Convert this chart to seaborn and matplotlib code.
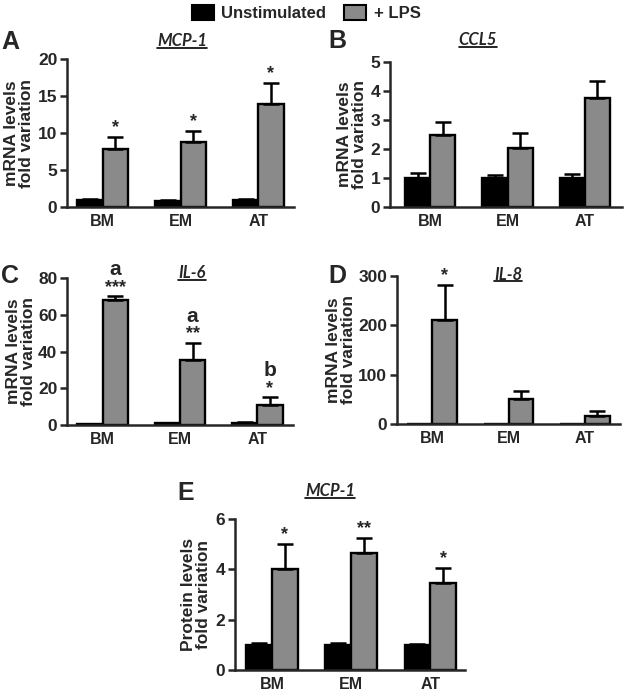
import matplotlib
matplotlib.use('Agg')
import matplotlib.pyplot as plt
import seaborn as sns
import pandas as pd
from matplotlib.patches import Patch
from matplotlib.lines import Line2D

sites = ['BM', 'EM', 'AT']
groups = ['Unstimulated', '+ LPS']

# A - MCP-1 mRNA
a_unstim = [0.9, 0.85, 0.9]
a_unstim_err = [0.2, 0.15, 0.2]
a_lps = [7.8, 8.8, 13.9]
a_lps_err = [1.7, 1.5, 2.9]
a_stars = ['*', '*', '*']

# B - CCL5 mRNA
b_unstim = [1.0, 1.0, 1.0]
b_unstim_err = [0.17, 0.1, 0.13]
b_lps = [2.5, 2.05, 3.75]
b_lps_err = [0.42, 0.5, 0.6]
b_stars = ['', '', '']

# C - IL-6 mRNA
c_unstim = [0.5, 1.0, 1.0]
c_unstim_err = [0.2, 0.3, 0.4]
c_lps = [68.0, 35.5, 11.0]
c_lps_err = [2.0, 9.0, 4.0]
c_stars = ['***', '**', '*']
c_letters = ['a', 'a', 'b']

# D - IL-8 mRNA
d_unstim = [1.0, 1.0, 1.0]
d_unstim_err = [0, 0, 0]
d_lps = [210, 50, 17]
d_lps_err = [72, 17, 9]
d_stars = ['*', '', '']

# E - MCP-1 protein
e_unstim = [1.0, 1.0, 1.0]
e_unstim_err = [0.07, 0.08, 0.05]
e_lps = [4.0, 4.65, 3.45]
e_lps_err = [1.0, 0.6, 0.6]
e_stars = ['*', '**', '*']

GRAY = '#8a8a8a'
W, H = 625, 693
FONT = 'Liberation Sans'

sns.set_style('ticks')
plt.rcParams['font.family'] = [FONT, 'DejaVu Sans']
plt.rcParams['font.weight'] = 'bold'

fig = plt.figure(figsize=(W / 100, H / 100), dpi=100)


def px_axes(left, top, right, bottom):
    return fig.add_axes([left / W, 1 - bottom / H, (right - left) / W, (bottom - top) / H])


def draw_panel(box, unstim, unstim_err, lps, lps_err, ymax, ystep, xlim,
               ylabel, labx, stars, letters=None):
    ax = px_axes(*box)
    df = pd.DataFrame({'site': sites * 2,
                       'group': [groups[0]] * 3 + [groups[1]] * 3,
                       'value': unstim + lps})
    sns.barplot(data=df, x='site', y='value', hue='group', order=sites,
                hue_order=groups, palette=['black', GRAY], saturation=1,
                width=0.65, edgecolor='black', linewidth=1.7,
                errorbar=None, legend=False, ax=ax)
    for cont, errs in zip(ax.containers, [unstim_err, lps_err]):
        for bar, e in zip(cont, errs):
            if e <= 0:
                continue
            x = bar.get_x() + bar.get_width() / 2
            ax.errorbar(x, bar.get_height(), yerr=[[0], [e]], color='black',
                        elinewidth=1.8, capsize=5.5, capthick=1.8, zorder=1)
    lps_bars = ax.containers[1]
    for i, bar in enumerate(lps_bars):
        x = bar.get_x() + bar.get_width() / 2
        top = bar.get_height() + lps_err[i]
        if stars[i]:
            ax.annotate(stars[i], (x, top), xytext=(0, 0.5), textcoords='offset points',
                        ha='center', va='bottom', fontsize=13, fontweight='bold',
                        annotation_clip=False)
        if letters and letters[i]:
            ax.annotate(letters[i], (x, top), xytext=(0, 12.5), textcoords='offset points',
                        ha='center', va='bottom', fontsize=15, fontweight='bold',
                        annotation_clip=False)
    ax.set_ylim(0, ymax)
    ax.set_yticks(range(0, int(ymax) + 1, ystep))
    ax.set_xlim(*xlim)
    ax.set_xlabel('')
    ax.set_ylabel(ylabel, fontsize=12.5, fontweight='bold', va='center', linespacing=1.0)
    ax.yaxis.set_label_coords(labx, 0.5)
    sns.despine(ax=ax)
    for s in ['left', 'bottom']:
        ax.spines[s].set_linewidth(1.8)
    ax.tick_params(axis='y', labelsize=12.5, width=1.8, length=5, pad=2)
    ax.tick_params(axis='x', labelsize=11.5, length=0, pad=5)
    for lab in ax.get_xticklabels() + ax.get_yticklabels():
        lab.set_fontweight('bold')
    return ax


mrna = 'mRNA levels\nfold variation'
draw_panel((67, 59, 294, 207), a_unstim, a_unstim_err, a_lps, a_lps_err, 20, 5,
           (-0.46, 2.46), mrna, -0.21, a_stars)
draw_panel((390, 62, 622, 207), b_unstim, b_unstim_err, b_lps, b_lps_err, 5, 1,
           (-0.52, 2.48), mrna, -0.165, b_stars)
draw_panel((67, 278, 293, 425), c_unstim, c_unstim_err, c_lps, c_lps_err, 80, 20,
           (-0.46, 2.46), mrna, -0.205, c_stars, c_letters)
draw_panel((397, 276, 620, 424), d_unstim, d_unstim_err, d_lps, d_lps_err, 300, 100,
           (-0.46, 2.46), mrna, -0.25, d_stars)
draw_panel((235, 519, 465, 670), e_unstim, e_unstim_err, e_lps, e_lps_err, 6, 2,
           (-0.47, 2.44), 'Protein levels\nfold variation', -0.17, e_stars)

# panel letters
for letter, (px, py) in zip('ABCDE', [(10, 42), (337, 41), (10, 276), (337, 276), (186, 493)]):
    fig.text(px / W, 1 - py / H, letter, fontsize=18, fontweight='bold',
             ha='center', va='center')

# gene titles, underlined
titles = []
for name, (px, py) in zip(['MCP-1', 'CCL5', 'IL-6', 'IL-8', 'MCP-1'],
                          [(182, 41), (478, 40), (192, 273), (508, 275), (330, 491)]):
    t = fig.text(px / W, 1 - py / H, name, fontsize=12, fontweight='bold',
                 fontstyle='italic', family=['Lato', 'DejaVu Sans'],
                 ha='center', va='center')
    titles.append(t)

handles = [Patch(facecolor='black', edgecolor='black', linewidth=1.5),
           Patch(facecolor=GRAY, edgecolor='black', linewidth=1.5)]
fig.legend(handles, groups, loc='upper center', bbox_to_anchor=(0.49, 1.014), ncol=2,
           frameon=False, prop={'family': FONT, 'weight': 'bold', 'size': 12},
           handlelength=1.3, handleheight=1.0, handletextpad=0.45, columnspacing=1.1)

fig.canvas.draw()
renderer = fig.canvas.get_renderer()
for t in titles:
    bb = t.get_window_extent(renderer)
    y = (bb.y0 + 1.5) / H
    fig.add_artist(Line2D([bb.x0 / W, bb.x1 / W], [y, y], color='black', linewidth=1.2,
                          transform=fig.transFigure))

fig.savefig('out.png', dpi=100)
